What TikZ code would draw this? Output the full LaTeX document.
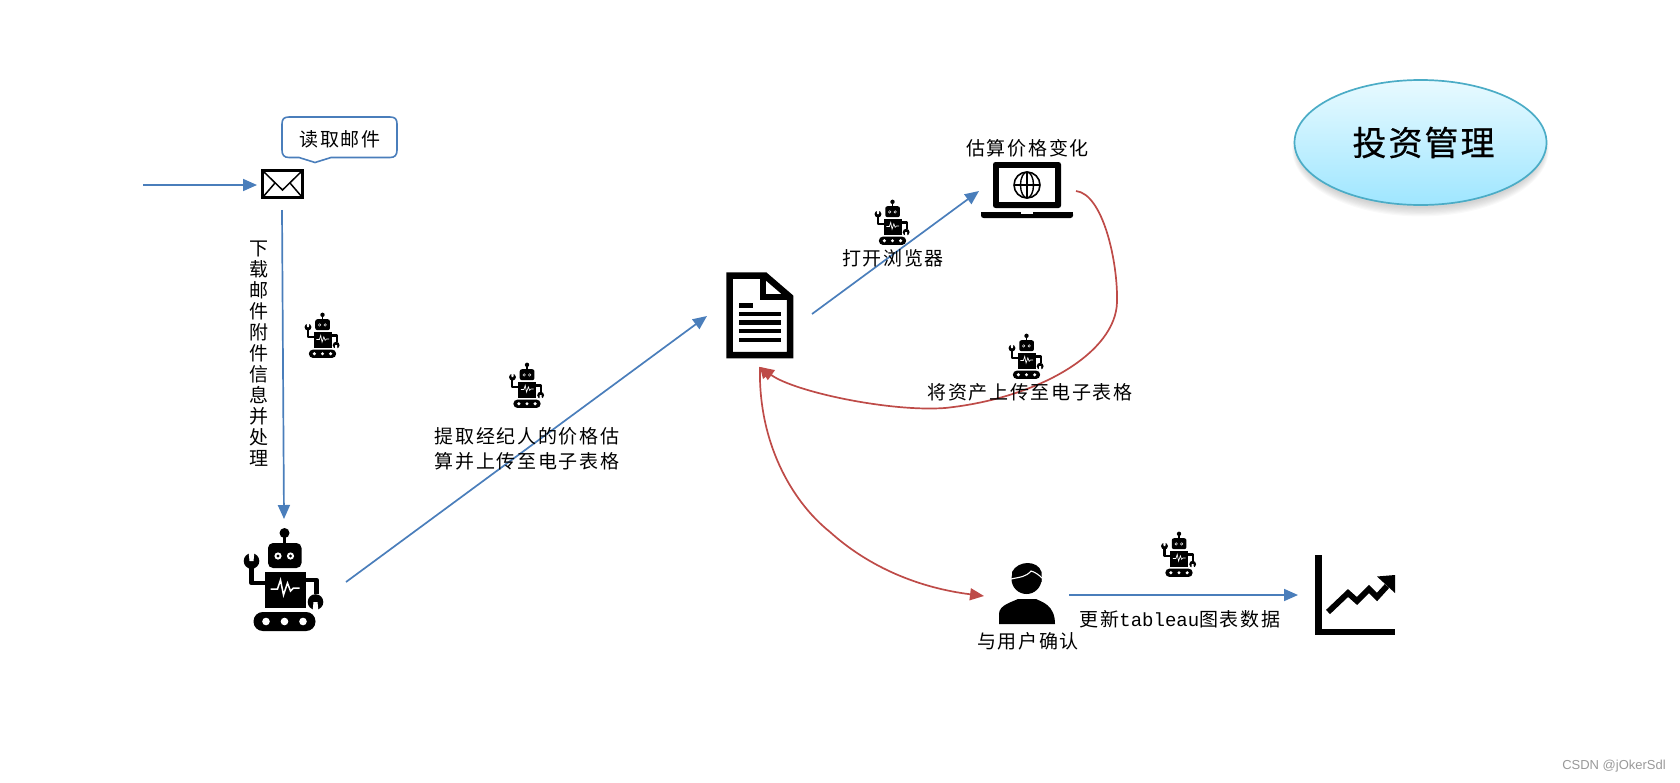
\documentclass[tikz,border=0pt]{standalone}
\usepackage{fontspec}
\usetikzlibrary{shapes.geometric,arrows.meta}
\newfontfamily\cjk[LetterSpace=9]{Noto Sans CJK SC}
\newfontfamily\cjkbig[LetterSpace=6,FakeBold=0.5]{Noto Sans CJK SC}
\newfontfamily\lat[LetterSpace=0]{Liberation Mono}
\setmainfont{Liberation Sans}
\definecolor{flowblue}{HTML}{4A7EBB}
\definecolor{flowred}{HTML}{BE4B48}
\definecolor{rim}{HTML}{4BACC6}
\definecolor{ovaltop}{HTML}{E8FAFF}
\definecolor{ovalbottom}{HTML}{9FE6FF}
\tikzset{
  x=1pt,y=-1pt,
  flow/.style={draw=flowblue,line width=1.7pt,-{Stealth[length=14pt,width=12pt,inset=0pt]}},
  redflow/.style={draw=flowred,line width=1.7pt},
  redtip/.style={-{Stealth[length=14pt,width=12pt,inset=0pt]}},
  lab/.style={font=\fontsize{19}{21}\selectfont\cjk,text=black,inner sep=0pt,align=center},
  pics/robotpic/.style={code={
    \fill (0,-47) circle (5);
    \fill (-1.7,-47) rectangle (1.7,-35);
    \fill[rounded corners=#1*5pt] (-16.5,-37) rectangle (17,-12);
    \fill[white] (-6.5,-24) circle (3.6);
    \fill[white] (6,-24) circle (3.6);
    \fill (-6.5,-24) circle (1.6);
    \fill (6,-24) circle (1.6);
    \fill (-20,-8) rectangle (21,28);
    \draw[white,line width=#1*1.5pt] (-14,9) -- (-7,9) -- (-4,0) -- (-1,15) -- (3,3) -- (6,11) -- (9,8) -- (15,8);
    \draw[line width=#1*4.6pt,line join=round] (-20,3) -- (-33,3) -- (-33,-15);
    \fill (-33,-19) circle (7.8);
    \fill[white] (-36,-29) -- (-30,-29) -- (-31,-19) -- (-35,-19) -- cycle;
    \draw[line width=#1*4.6pt,line join=round] (21,0) -- (32,0) -- (32,14);
    \fill (31,22) circle (7.8);
    \fill[white] (28,32) -- (34,32) -- (33,22) -- (29,22) -- cycle;
    \fill[rounded corners=#1*9.3pt] (-31,32) rectangle (31,51);
    \foreach \q in {-18.5,0,18.5} {\fill[white] (\q,41.5) circle (3.8);}
  }}
}
\begin{document}
\begin{tikzpicture}
\useasboundingbox (0,0) rectangle (1680,782);
% named connector ends
\coordinate (inStart) at (143,185);
\coordinate (mailIn) at (257,185);
\coordinate (mailOut) at (282,210);
\coordinate (robotIn) at (284,519);
\coordinate (robotOut) at (346,582);
\coordinate (docIn) at (707,316);
\coordinate (docOut) at (812,314);
\coordinate (laptopIn) at (979,191);
\coordinate (laptopOut) at (1076,191);
\coordinate (docTip) at (760,367);
\coordinate (personIn) at (984,596);
\coordinate (personOut) at (1069,595);
\coordinate (chartIn) at (1298,595);

% oval
\foreach \d in {0,1,...,7} {\fill[black,opacity=.022] (1420.5,{146+\d*.5}) ellipse ({124+\d*.6} and {62+\d*.7});}
\node[ellipse,name=title,draw=rim,line width=1.7pt,top color=ovaltop,bottom color=ovalbottom,
  minimum width=252pt,minimum height=125pt,inner sep=0pt,font=\fontsize{34}{38}\selectfont\cjkbig] at (1420.5,142.5) {\hspace{6pt}投资管理};

% callout
\draw[flowblue,line width=1.6pt,fill=white]
  (289,117) -- (390,117) .. controls (395,117) and (397,119) .. (397,124) -- (397,150)
  .. controls (397,155) and (395,157.5) .. (390,157.5) -- (331,157.5) -- (315,162.5) -- (299,157.5) -- (289,157.5)
  .. controls (284,157.5) and (282,155) .. (282,150) -- (282,124) .. controls (282,119) and (284,117) .. (289,117) -- cycle;
\node[lab,name=readmail] at (340,139) {读取邮件};

% envelope
\draw[line width=2.8pt,fill=white] (262.5,170.5) rectangle (302.5,197.5);
\draw[line width=1.5pt] (263,171) -- (282.5,190) -- (302,171);
\draw[line width=1.5pt] (263,197) -- (275,183) (302,197) -- (290,183);

% connectors
\draw[flow] (inStart) -- (mailIn);
\draw[flow] (mailOut) -- (robotIn);
\draw[flow] (robotOut) -- (docIn);
\draw[flow] (docOut) -- (laptopIn);
\draw[flow] (personOut) -- (chartIn);
\draw[redflow,redtip] (laptopOut) .. controls (1103,194) and (1118,262) .. (1117,302)
   .. controls (1116,352) and (1040,398) .. (945,408) .. controls (890,412) and (795,392) .. (docTip);
\draw[redflow,redtip] (docTip) .. controls (758,440) and (790,500) .. (830,532) .. controls (870,568) and (920,588) .. (personIn);
\fill[flowred] (760,367) -- (773,371) -- (763,379) -- cycle;

% big robot & small robots
\pic[name=bigrobot] at (284.5,580) {robotpic=1};
\pic[scale=.44] at (322.5,335.5) {robotpic=.44};
\pic[scale=.44] at (527,385.5) {robotpic=.44};
\pic[scale=.44] at (892.5,222.5) {robotpic=.44};
\pic[scale=.44] at (1026.5,356.5) {robotpic=.44};
\pic[scale=.44] at (1179,554.5) {robotpic=.44};

% document
\draw[line width=6.5pt,miter limit=3] (729.5,275.5) -- (765,275.5) -- (790,297) -- (790,355) -- (729.5,355) -- cycle;
\draw[line width=5.5pt] (763,276) -- (763,297) -- (790,297);
\fill (739,303) rectangle (753,307.5);
\foreach \yy in {314,322.5,331,340} {\fill (739,{\yy-2.2}) rectangle (781,{\yy+2.2});}

% laptop
\fill[rounded corners=2.5pt] (993,162) rectangle (1061,208);
\fill[white] (999,168) rectangle (1055,202);
\fill[rounded corners=2.5pt] (981,212) rectangle (1073,218);
\fill (981,212) rectangle (1073,215);
\fill[white] (1021,212) rectangle (1033,214);
\draw[line width=1.6pt] (1027,185) circle (13);
\draw[line width=1.4pt] (1027,185) ellipse (6.5 and 13);
\draw[line width=1.4pt] (1014,185) -- (1040,185);
\draw[line width=1.4pt] (1027,172) -- (1027,198);

% person
\fill (1026.5,579) circle (15);
\fill (1012,572) .. controls (1018,560) and (1038,560) .. (1041.5,572) -- (1041.5,582) -- (1012,582) -- cycle;
\draw[white,line width=1.1pt] (1011,579) .. controls (1020,577) and (1026,577) .. (1031,571) .. controls (1035,572) and (1039,575) .. (1042,578);
\fill (999,624) -- (999,614) .. controls (999,605) and (1012,602) .. (1018,599) -- (1036,599) .. controls (1042,602) and (1055,605) .. (1055,624) -- cycle;

% chart
\fill (1314.5,555) rectangle (1321.5,635);
\fill (1314.5,628.5) rectangle (1395,635);
\draw[line width=5.8pt] (1328,612) -- (1348,593) -- (1357,601) -- (1369,589) -- (1377,597) -- (1387,586);
\fill (1377,576.5) -- (1395,575) -- (1395,593) -- cycle;

% labels
\node[lab,name=downloadlab] at (258.5,354) {下\\载\\邮\\件\\附\\件\\信\\息\\并\\处\\理};
\node[lab,name=estlab] at (1027.5,148.5) {估算价格变化};
\node[lab,name=openlab] at (893,258.5) {打开浏览器};
\node[lab,name=uploadlab] at (1030,392.5) {将资产上传至电子表格};
\node[lab,name=extractlab,font=\fontsize{19}{25}\selectfont\cjk] at (527,448.5) {提取经纪人的价格估\\算并上传至电子表格};
\node[lab,name=confirmlab] at (1028,641.5) {与用户确认};
\node[lab,name=updatelab] at (1180,619.5) {更新{\lat tableau}图表数据};
\node[inner sep=0pt,text=black!40,font=\fontsize{13}{15}\selectfont,name=mark] at (1614,766) {CSDN @jOkerSdl};
\end{tikzpicture}
\end{document}
